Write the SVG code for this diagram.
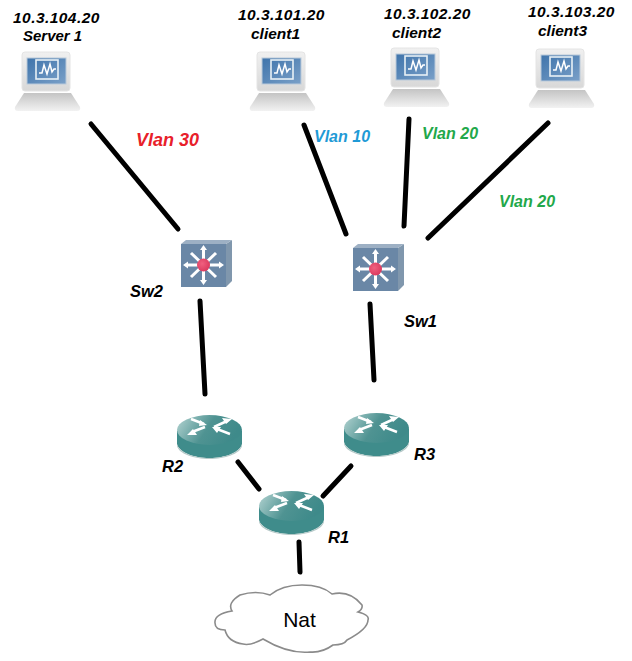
<svg xmlns="http://www.w3.org/2000/svg" width="632" height="661" viewBox="0 0 632 661">
<style>
.lbl{font-family:"Liberation Sans",Arial,sans-serif;font-size:15.500px;font-weight:700;font-style:italic;fill:#000}
.ip{letter-spacing:.45px}
.big{font-size:16.500px}
.vl{font-family:"Liberation Sans",Arial,sans-serif;font-size:16px;font-weight:700;font-style:italic}
.ln{stroke:#000;stroke-width:5;stroke-linecap:round;fill:none}
</style>
<defs>
<linearGradient id="base" x1="0" y1="0" x2="0" y2="1"><stop offset="0" stop-color="#c4c4c4"/><stop offset="1" stop-color="#f2f2f2"/></linearGradient>
<linearGradient id="bez" x1="0" y1="0" x2="0" y2="1"><stop offset="0" stop-color="#f0f0f0"/><stop offset="1" stop-color="#d8d8d8"/></linearGradient>
<linearGradient id="scr" x1="0" y1="0" x2="1" y2="1"><stop offset="0" stop-color="#3f74ab"/><stop offset="1" stop-color="#7aa0c8"/></linearGradient>
<linearGradient id="rt" x1="0" y1="0" x2="1" y2="0.3"><stop offset="0" stop-color="#b6d5d3"/><stop offset="0.55" stop-color="#4f9392"/><stop offset="1" stop-color="#3e8a8a"/></linearGradient>
<radialGradient id="led" cx="0.4" cy="0.4" r="0.7"><stop offset="0" stop-color="#f0607f"/><stop offset="1" stop-color="#d8355a"/></radialGradient>
<g id="pc">
<path d="M9 41H56L65 55Q66 59 62 59H3Q-1 59 0 55Z" fill="url(#base)"/>
<rect x="7" y="0" width="48" height="39" rx="3" fill="url(#bez)" stroke="#e4e4e4"/>
<rect x="12" y="6" width="39" height="26" fill="url(#scr)" stroke="#b9c9da"/>
<rect x="21" y="8" width="22" height="19" fill="none" stroke="#e8f0f6" stroke-width="1.600"/>
<path d="M24 21H27L29 13L32 22L35 12L37 20L39 17H41" fill="none" stroke="#fff" stroke-width="1.500"/>
</g>
<g id="sw">
<path d="M45 4L51 0V41L45 47Z" fill="#8097ad"/>
<path d="M0 4L5 0H51L45 4Z" fill="#9db0c4"/>
<rect x="0" y="4" width="45" height="43" fill="#6a87a6"/>
<g fill="#fff">
<path d="M22.500 25V9M22.500 25V41M22.500 25H6M22.500 25H39M22.500 25L10 13M22.500 25L35 13M22.500 25L10 37M22.500 25L35 37" stroke="#fff" stroke-width="3"/>
<path d="M22.500 5L19 10H26ZM22.500 45L19 40H26ZM2 25L7 21.500V28.500ZM43 25L38 21.500V28.500Z"/>
</g>
<circle cx="22.500" cy="25" r="6.500" fill="url(#led)"/>
</g>
<g id="rtr">
<path d="M0 16V29C2 37 16 43 32.500 43S63 37 65 29V16Z" fill="#3f8c8b"/>
<path d="M0 29C2 37 16 43 32.500 43S63 37 65 29V31C63 39 48 44 32.500 44S2 39 0 31Z" fill="#b5c9c8"/>
<ellipse cx="32.500" cy="15" rx="32.500" ry="15" fill="url(#rt)"/>
<path d="M14 4L27 9M37 12L50 6M28 12L15 17M53 19L40 14" fill="none" stroke="#fff" stroke-width="2.500"/>
<path d="M30 10L23 5L22 11ZM55 4L45 3L49 9ZM10 20L20 20L16 14ZM35 12L44 12L40 18Z" fill="#fff"/>
</g>
</defs>
<g id="connectors">
<path class="ln" d="M91 124L178 229"/>
<path class="ln" d="M304 125L346 234"/>
<path class="ln" d="M409 119L404 226"/>
<path class="ln" d="M548 123L428 238"/>
<path class="ln" d="M200 301L205 394"/>
<path class="ln" d="M370 304L374 380"/>
<path class="ln" d="M238 462L259 489"/>
<path class="ln" d="M351 466L323 496"/>
<path class="ln" d="M299 542L300 572"/>
</g>
<g id="server1"><use href="#pc" x="15" y="52"/>
<text class="lbl ip" x="13" y="23">10.3.104.20</text><text class="lbl" x="23" y="41" style="font-size:15px">Server 1</text></g>
<g id="client1"><use href="#pc" x="250" y="52"/>
<text class="lbl ip" x="238" y="20">10.3.101.20</text><text class="lbl" x="251" y="39">client1</text></g>
<g id="client2"><use href="#pc" x="384" y="48"/>
<text class="lbl ip" x="384" y="19">10.3.102.20</text><text class="lbl" x="392" y="38">client2</text></g>
<g id="client3"><use href="#pc" x="529" y="49"/>
<text class="lbl ip" x="528" y="17">10.3.103.20</text><text class="lbl" x="538" y="36">client3</text></g>
<g id="sw2"><use href="#sw" x="181" y="240"/><text class="lbl big" x="130" y="297">Sw2</text></g>
<g id="sw1"><use href="#sw" x="353" y="244"/><text class="lbl big" x="404" y="327">Sw1</text></g>
<g id="r2"><use href="#rtr" x="177" y="415"/><text class="lbl big" x="162" y="472">R2</text></g>
<g id="r3"><use href="#rtr" x="344" y="413"/><text class="lbl big" x="414" y="460">R3</text></g>
<g id="r1"><use href="#rtr" x="259" y="491"/><text class="lbl big" x="328" y="543">R1</text></g>
<g id="nat">
<path d="M215 623Q214 614 232 611Q227 603 240 595Q256 590 270 595Q282 585 302 585Q322 585 332 594Q350 590 362 605Q363 609 358 612Q370 615 368 620Q368 629 347 640Q344 645 333 645Q322 653 310 652Q288 654 263 639Q250 646 243 644Q228 642 225 630Q215 630 215 623Z" fill="#fff" stroke="#8b8b8b" stroke-width="1.600"/>
<text x="299.500" y="627" font-family="'Liberation Sans',Arial,sans-serif" font-size="21" text-anchor="middle" fill="#000">Nat</text>
</g>
<g id="vlans">
<text class="vl" x="136" y="146" fill="#e8202a" style="font-size:18px">Vlan 30</text>
<text class="vl" x="314" y="142" fill="#1f9ad6">Vlan 10</text>
<text class="vl" x="422" y="139" fill="#22a84a">Vlan 20</text>
<text class="vl" x="499" y="207" fill="#22a84a">Vlan 20</text>
</g>
</svg>
